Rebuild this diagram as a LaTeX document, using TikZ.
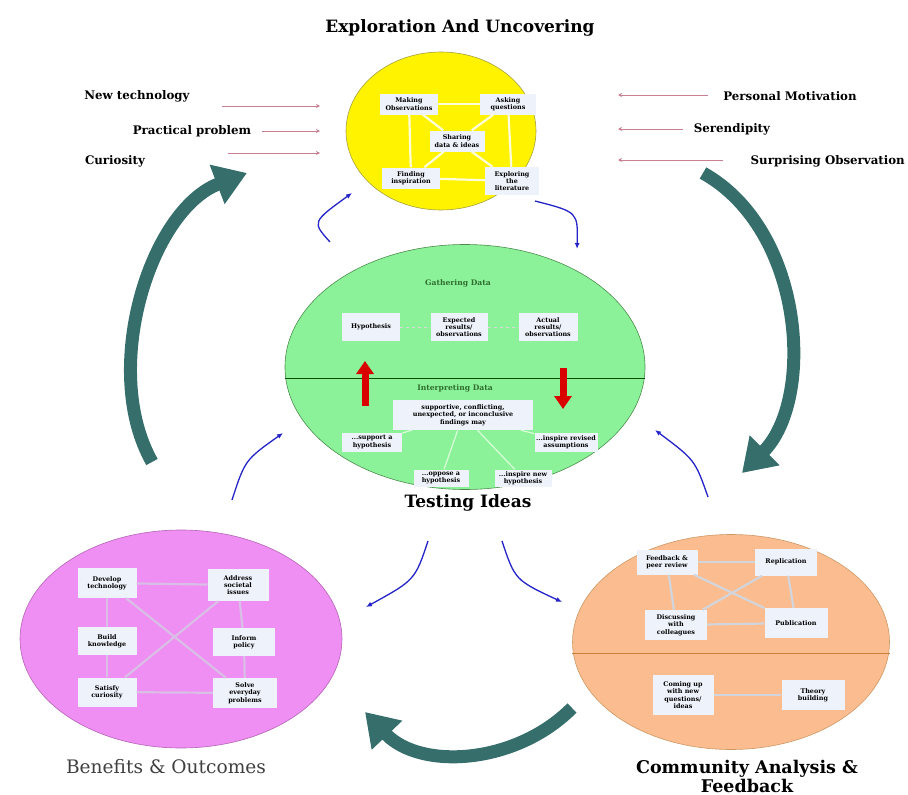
\documentclass[tikz,border=0pt]{standalone}
\usepackage{fontspec}
\setmainfont{DejaVu Serif}
\usepackage{xcolor}
\usetikzlibrary{shapes.geometric, arrows.meta}

\definecolor{sunyellow}{HTML}{FFF300}
\definecolor{mintgreen}{HTML}{8CF29A}
\definecolor{orchid}{HTML}{EF8EF3}
\definecolor{peach}{HTML}{FBBC8F}
\definecolor{cardfill}{HTML}{EEF2FA}
\definecolor{cyclegreen}{HTML}{356E6A}
\definecolor{pathblue}{HTML}{2424C8}
\definecolor{cuered}{HTML}{B04A60}
\definecolor{darkleaf}{HTML}{2E6E2E}

\begin{document}
\begin{tikzpicture}[x=1pt, y=-1pt,
    card/.style={fill=cardfill, font=\fontsize{6.4}{7.3}\selectfont\bfseries, align=center,
      inner sep=1.2pt, minimum width=56pt, minimum height=21pt},
    bubble/.style={ellipse, inner sep=0pt, line width=0.6pt},
    link/.style={line width=2.2pt},
    cycle/.style={draw=cyclegreen, line width=13pt, -{Triangle[width=40pt, length=32pt]}},
    path/.style={draw=pathblue, line width=1.3pt, -{Latex[length=6pt, width=5pt]}},
    cue/.style={draw=cuered!70, line width=0.9pt, -{Stealth[length=4pt, width=4pt]}},
    cuetext/.style={font=\fontsize{11.8}{14}\selectfont\bfseries},
    bigtext/.style={font=\fontsize{17}{20}\selectfont\bfseries, align=center},
    flip/.style={draw=red!85!black, fill=red!85!black, line width=7pt, -{Triangle[width=17pt, length=13pt]}}]
  \useasboundingbox (0,0) rectangle (908,795);

  \node[bigtext] (exploretitle) at (460,28) {Exploration And Uncovering};
  \node[bubble, fill=sunyellow, draw=yellow!60!black, minimum width=190pt, minimum height=158pt] (explore) at (441,131) {};
  \node[card, minimum width=58pt] (observe) at (409,104) {Making\\Observations};
  \node[card, minimum width=56pt] (ask) at (508,104) {Asking\\questions};
  \node[card, minimum width=55pt] (share) at (457,141) {Sharing\\data \& ideas};
  \node[card, minimum width=58pt] (inspire) at (411,178) {Finding\\inspiration};
  \node[card, minimum width=54pt, minimum height=28pt] (literature) at (512,181) {Exploring\\the\\literature};
  \draw[link, draw=yellow!15] (observe) -- (ask);
  \draw[link, draw=yellow!15] (observe) -- (inspire);
  \draw[link, draw=yellow!15] (ask) -- (literature);
  \draw[link, draw=yellow!15] (inspire) -- (literature);
  \draw[link, draw=yellow!15] (observe) -- (share);
  \draw[link, draw=yellow!15] (ask) -- (share);
  \draw[link, draw=yellow!15] (inspire) -- (share);
  \draw[link, draw=yellow!15] (literature) -- (share);

  \node[cuetext] (newtech) at (137,96) {New technology};
  \node[cuetext] (practical) at (192,131) {Practical problem};
  \node[cuetext] (curiosity) at (115,161) {Curiosity};
  \coordinate (newtechA) at (222,106);
  \coordinate (newtechB) at (320,106);
  \coordinate (practicalA) at (262,131);
  \coordinate (practicalB) at (320,131);
  \coordinate (curiosityA) at (228,153);
  \coordinate (curiosityB) at (320,153);
  \draw[cue] (newtechA) -- (newtechB);
  \draw[cue] (practicalA) -- (practicalB);
  \draw[cue] (curiosityA) -- (curiosityB);

  \node[cuetext] (motivation) at (790,96) {Personal Motivation};
  \node[cuetext] (serendipity) at (732,129) {Serendipity};
  \node[cuetext, anchor=east, inner xsep=0pt] (surprise) at (905,161) {Surprising Observation};
  \coordinate (motivationA) at (708,95);
  \coordinate (motivationB) at (618,95);
  \coordinate (serendipityA) at (683,129);
  \coordinate (serendipityB) at (618,129);
  \coordinate (surpriseA) at (723,160);
  \coordinate (surpriseB) at (618,160);
  \draw[cue] (motivationA) -- (motivationB);
  \draw[cue] (serendipityA) -- (serendipityB);
  \draw[cue] (surpriseA) -- (surpriseB);

  \node[bubble, fill=mintgreen, draw=green!35!black!70, minimum width=360pt, minimum height=245pt] (testing) at (465,367) {};
  \draw[draw=green!30!black, line width=0.7pt] ([yshift=-11pt]testing.west) -- ([yshift=-11pt]testing.east);
  \node[font=\fontsize{7.6}{9}\selectfont\bfseries, text=darkleaf] (gather) at (458,283) {Gathering Data};
  \node[card, minimum width=58pt, minimum height=28pt] (hypothesis) at (371,327) {Hypothesis};
  \node[card, minimum width=57pt, minimum height=28pt] (expected) at (459,327) {Expected\\results/\\observations};
  \node[card, minimum width=59pt, minimum height=28pt] (actual) at (548,327) {Actual\\results/\\observations};
  \draw[link, draw=gray!30, dashed, line width=1pt] (hypothesis) -- (expected);
  \draw[link, draw=gray!30, dashed, line width=1pt] (expected) -- (actual);
  \node[font=\fontsize{7.6}{9}\selectfont\bfseries, text=darkleaf] (interpret) at (455,388) {Interpreting Data};
  \node[card, minimum width=140pt, minimum height=30pt] (findings) at (463,415) {supportive, conflicting,\\unexpected, or inconclusive\\findings may};
  \node[card, minimum width=60pt, minimum height=19pt] (support) at (372,442) {...support a\\hypothesis};
  \node[card, minimum width=63pt, minimum height=19pt] (assume) at (566,442) {...inspire revised\\assumptions};
  \node[card, minimum width=55pt, minimum height=17pt] (oppose) at (441,478) {...oppose a\\hypothesis};
  \node[card, minimum width=57pt, minimum height=17pt] (newhyp) at (523,478) {...inspire new\\hypothesis};
  \draw[link, draw=white!85!green, line width=1.2pt] (findings) -- (support);
  \draw[link, draw=white!85!green, line width=1.2pt] (findings) -- (assume);
  \draw[link, draw=white!85!green, line width=1.2pt] (findings) -- (oppose);
  \draw[link, draw=white!85!green, line width=1.2pt] (findings) -- (newhyp);
  \coordinate (riseA) at (365,406);
  \coordinate (riseB) at (365,361);
  \coordinate (dropA) at (563,368);
  \coordinate (dropB) at (563,409);
  \draw[flip] (riseA) -- (riseB);
  \draw[flip] (dropA) -- (dropB);
  \node[bigtext] (testtitle) at (468,503) {Testing Ideas};

  \node[bubble, fill=orchid, draw=violet!60, minimum width=322pt, minimum height=218pt] (benefits) at (181,639) {};
  \node[card, minimum width=59pt, minimum height=30pt] (develop) at (107,583) {Develop\\technology};
  \node[card, minimum width=61pt, minimum height=32pt] (societal) at (238,585) {Address\\societal\\issues};
  \node[card, minimum width=59pt, minimum height=28pt] (knowledge) at (107,641) {Build\\knowledge};
  \node[card, minimum width=62pt, minimum height=28pt] (policy) at (244,642) {Inform\\policy};
  \node[card, minimum width=59pt, minimum height=29pt] (satisfy) at (107,692) {Satisfy\\curiosity};
  \node[card, minimum width=64pt, minimum height=30pt] (solve) at (245,693) {Solve\\everyday\\problems};
  \draw[link, draw=blue!20!violet!25] (develop) -- (societal);
  \draw[link, draw=blue!20!violet!25] (satisfy) -- (solve);
  \draw[link, draw=blue!20!violet!25] (develop) -- (knowledge);
  \draw[link, draw=blue!20!violet!25] (knowledge) -- (satisfy);
  \draw[link, draw=blue!20!violet!25] (societal) -- (policy);
  \draw[link, draw=blue!20!violet!25] (policy) -- (solve);
  \draw[link, draw=blue!20!violet!25] (develop) -- (solve);
  \draw[link, draw=blue!20!violet!25] (satisfy) -- (societal);
  \node[font=\fontsize{18.6}{22}\selectfont, text=black!75] (benefittitle) at (166,767) {Benefits \& Outcomes};

  \node[bubble, fill=peach, draw=brown!80, minimum width=317pt, minimum height=215pt] (community) at (731,642) {};
  \draw[draw=brown!90!orange, line width=1pt] ([yshift=-11pt]community.west) -- ([yshift=-11pt]community.east);
  \node[card, minimum width=61pt, minimum height=25pt] (feedback) at (667,562) {Feedback \&\\peer review};
  \node[card, minimum width=62pt, minimum height=27pt] (replicate) at (786,562) {Replication};
  \node[card, minimum width=62pt, minimum height=30pt] (discuss) at (676,625) {Discussing\\with\\colleagues};
  \node[card, minimum width=63pt, minimum height=30pt] (publish) at (796,623) {Publication};
  \node[card, minimum width=61pt, minimum height=40pt] (newideas) at (683,695) {Coming up\\with new\\questions/\\ideas};
  \node[card, minimum width=63pt, minimum height=30pt] (theory) at (813,695) {Theory\\building};
  \draw[link, draw=gray!25!cardfill] (feedback) -- (replicate);
  \draw[link, draw=gray!25!cardfill] (feedback) -- (discuss);
  \draw[link, draw=gray!25!cardfill] (replicate) -- (publish);
  \draw[link, draw=gray!25!cardfill] (discuss) -- (publish);
  \draw[link, draw=gray!25!cardfill] (feedback) -- (publish);
  \draw[link, draw=gray!25!cardfill] (discuss) -- (replicate);
  \draw[link, draw=gray!25!cardfill] (newideas) -- (theory);
  \node[bigtext, font=\fontsize{17.5}{19}\selectfont\bfseries] (communitytitle) at (747,776) {Community Analysis \&\\Feedback};

  \coordinate (leftfoot) at (152,462);
  \coordinate (lefttip) at (247,173);
  \coordinate (rightfoot) at (703,173);
  \coordinate (righttip) at (742,473);
  \coordinate (lowfoot) at (572,708);
  \coordinate (lowtip) at (365,712);
  \draw[cycle] (leftfoot) .. controls (100,370) and (150,210) .. (lefttip);
  \draw[cycle] (rightfoot) .. controls (805,230) and (815,400) .. (righttip);
  \draw[cycle] (lowfoot) .. controls (515,765) and (420,770) .. (lowtip);

  \coordinate (upleftA) at (330,242);
  \coordinate (upleftB) at (352,193);
  \coordinate (uprightA) at (535,201);
  \coordinate (uprightB) at (577,249);
  \coordinate (midleftA) at (232,500);
  \coordinate (midleftB) at (283,433);
  \coordinate (midrightA) at (708,497);
  \coordinate (midrightB) at (655,430);
  \coordinate (lowleftA) at (428,541);
  \coordinate (lowleftB) at (366,607);
  \coordinate (lowrightA) at (502,541);
  \coordinate (lowrightB) at (562,602);
  \draw[path] (upleftA) .. controls (312,222) .. (upleftB);
  \draw[path] (uprightA) .. controls (578,212) .. (uprightB);
  \draw[path] (midleftA) .. controls (245,460) .. (midleftB);
  \draw[path] (midrightA) .. controls (695,460) .. (midrightB);
  \draw[path] (lowleftA) .. controls (415,580) .. (lowleftB);
  \draw[path] (lowrightA) .. controls (515,580) .. (lowrightB);
\end{tikzpicture}
\end{document}
